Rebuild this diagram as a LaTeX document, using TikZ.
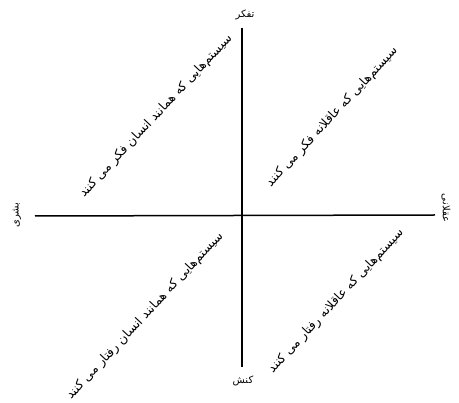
\documentclass[tikz,border=0pt]{standalone}
\usepackage{fontspec}
\newfontfamily\arabicfont[Script=Arabic]{DejaVu Sans}
\TeXXeTstate=1
\begin{document}
\begin{tikzpicture}[x=1pt,y=-1pt,
  lbl/.style={font=\arabicfont\fontsize{10}{12}\selectfont, inner sep=0pt},
  diag/.style={font=\arabicfont\fontsize{12.5}{14}\selectfont, inner sep=0pt, rotate=47},
  axisline/.style={line width=1.5pt, black}]
\useasboundingbox (0,0) rectangle (459,403);
\coordinate (top) at (242,28);
\coordinate (bottom) at (242,367);
\coordinate (left) at (35,216);
\coordinate (right) at (435,215);
\draw[axisline] (top) -- (bottom);
\draw[axisline] (left) -- (right);
\node[lbl] (think) at (245,15) {\beginR تفکر\endR};
\node[lbl] (act) at (243,381) {\beginR کنش\endR};
\node[lbl, rotate=90] (human) at (17,215) {\beginR بشری\endR};
\node[lbl, rotate=-90] (rational) at (446,208) {\beginR عقلانی\endR};
\node[diag] (ul) at (156,116) {\beginR سیستم‌هایی که همانند انسان فکر می کنند\endR};
\node[diag] (ur) at (332,117) {\beginR سیستم‌هایی که عاقلانه فکر می کنند\endR};
\node[diag] (ll) at (145,316) {\beginR سیستم‌هایی که همانند انسان رفتار می کنند\endR};
\node[diag] (lr) at (336,301) {\beginR سیستم‌هایی که عاقلانه رفتار می کنند\endR};
\end{tikzpicture}
\end{document}
